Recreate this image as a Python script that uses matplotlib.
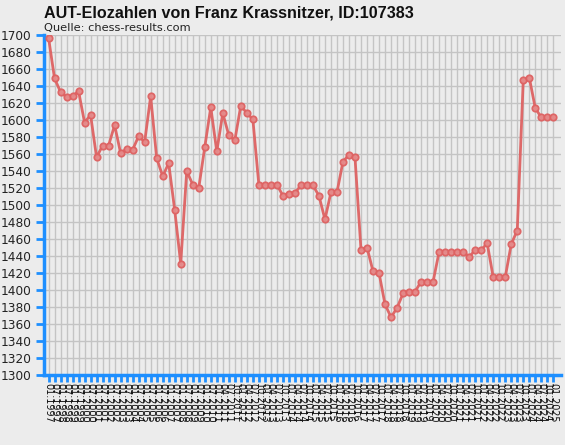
import matplotlib
matplotlib.use("Agg")
import matplotlib.pyplot as plt

# ---- data ----
dates = [
    "01.1997", "07.1997", "01.1998", "07.1998", "01.1999", "07.1999",
    "01.2000", "07.2000", "01.2001", "07.2001", "01.2002", "07.2002",
    "01.2003", "07.2003", "01.2004", "07.2004", "01.2005", "07.2005",
    "01.2006", "07.2006", "01.2007", "07.2007", "01.2008", "07.2008",
    "01.2009", "07.2009", "01.2010", "07.2010", "01.2011",
    "04.2011", "07.2011", "10.2011",
    "01.2012", "04.2012", "07.2012", "10.2012",
    "01.2013", "04.2013", "07.2013", "10.2013",
    "01.2014", "04.2014", "07.2014", "10.2014",
    "01.2015", "04.2015", "07.2015", "10.2015",
    "01.2016", "04.2016", "07.2016", "10.2016",
    "01.2017", "04.2017", "07.2017", "10.2017",
    "01.2018", "04.2018", "07.2018", "10.2018",
    "01.2019", "04.2019", "07.2019", "10.2019",
    "01.2020", "04.2020", "07.2020", "10.2020",
    "01.2021", "04.2021", "07.2021", "10.2021",
    "01.2022", "04.2022", "07.2022", "10.2022",
    "01.2023", "04.2023", "07.2023", "10.2023",
    "01.2024", "04.2024", "07.2024", "10.2024",
    "01.2025",
]

elo = [
    1697, 1649, 1633, 1627, 1628, 1634, 1597, 1606, 1556, 1570,
    1570, 1594, 1561, 1566, 1565, 1581, 1574, 1628, 1555, 1534,
    1549, 1494, 1431, 1540, 1524, 1520, 1568, 1615, 1563, 1608,
    1582, 1576, 1617, 1608, 1601, 1524, 1524, 1523, 1524, 1511,
    1513, 1514, 1523, 1523, 1523, 1511, 1483, 1515, 1515, 1551,
    1559, 1556, 1447, 1450, 1422, 1420, 1383, 1368, 1379, 1396,
    1398, 1398, 1410, 1410, 1410, 1445, 1445, 1445, 1445, 1445,
    1439, 1447, 1447, 1455, 1415, 1415, 1415, 1454, 1470, 1647,
    1650, 1614, 1603, 1603, 1603,
]

yticks = list(range(1300, 1701, 20))

title = "AUT-Elozahlen von Franz Krassnitzer, ID:107383"
subtitle = "Quelle: chess-results.com"

# ---- style ----
BG = "#ECECEC"
BLUE = "#1E8FFF"
GRID = "#C4C4C4"
LINE = "#DE6262"

W, H, DPI = 565, 445, 100
fig = plt.figure(figsize=(W / DPI, H / DPI), dpi=DPI, facecolor=BG)
ax = fig.add_axes([44 / W, 1 - 375 / H, (561 - 44) / W, (375 - 35) / H])
ax.set_facecolor(BG)

x = list(range(len(elo)))
ax.plot(x, elo, color=LINE, lw=2.0, alpha=0.95, zorder=3,
        marker="o", ms=4.6, mfc="#E58A8A", mec=LINE, mew=1.3)

ax.set_xlim(-0.75, len(elo) - 1 + 1.28)
ax.set_ylim(1300, 1700)

ax.set_yticks(yticks)
ax.set_yticklabels([str(v) for v in yticks], fontsize=8.7, family="DejaVu Sans")
ax.set_xticks(x)
ax.set_xticklabels(dates, rotation=270, fontsize=6.9, family="DejaVu Sans",
                   va="top", ha="center")

ax.grid(True, color=GRID, lw=1.0, zorder=0)
ax.set_axisbelow(True)

for s in ("top", "right"):
    ax.spines[s].set_visible(False)
for s in ("left", "bottom"):
    ax.spines[s].set_color(BLUE)
    ax.spines[s].set_linewidth(2.5)

ax.tick_params(axis="y", colors=BLUE, length=6, width=2, pad=3, labelcolor="#222222")
ax.tick_params(axis="x", colors=BLUE, length=5, width=2, pad=1, labelcolor="#111111")

fig.text(44 / W, 1 - 18 / H, title, fontsize=11.6, fontweight="bold",
         family="Liberation Sans", ha="left", va="baseline", color="#111111")
fig.text(44 / W, 1 - 31 / H, subtitle, fontsize=8.2,
         family="DejaVu Sans", ha="left", va="baseline", color="#222222")

fig.savefig("out.png", dpi=DPI, facecolor=BG)
